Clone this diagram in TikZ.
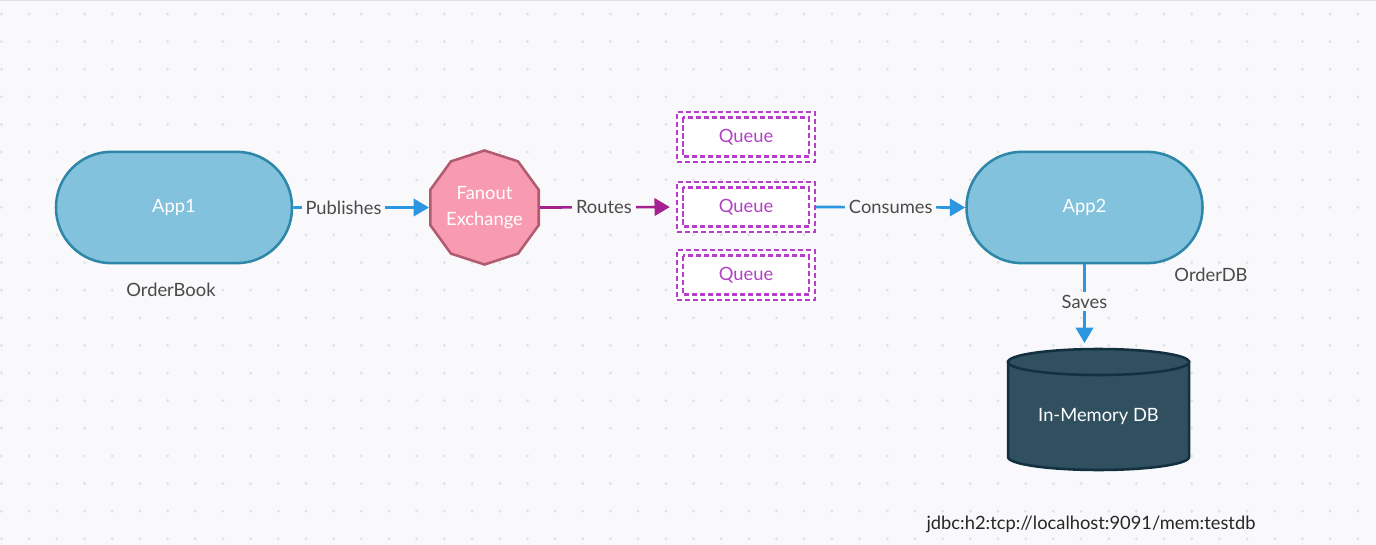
\documentclass[tikz,border=0pt]{standalone}
\usepackage{fontspec}
\setmainfont{Lato}
\usetikzlibrary{arrows.meta,shapes.geometric}
\definecolor{bg}{HTML}{F9F9FB}
\definecolor{dotc}{HTML}{E1E1E7}
\definecolor{appfill}{HTML}{82C2DC}
\definecolor{appline}{HTML}{2E87A9}
\definecolor{pinkfill}{HTML}{F89BB0}
\definecolor{pinkline}{HTML}{B15B71}
\definecolor{qline}{HTML}{B53ECA}
\definecolor{qtext}{HTML}{B142C4}
\definecolor{purp}{HTML}{A5218F}
\definecolor{blue}{HTML}{2D96E0}
\definecolor{dbfill}{HTML}{30505F}
\definecolor{dbline}{HTML}{12303F}
\definecolor{labc}{HTML}{4A4A4A}
\tikzset{
  app/.style={draw=appline,fill=appfill,line width=1.9pt,rounded corners=41.5pt,
    minimum width=177pt,minimum height=83.5pt,text=white,font=\fontsize{13.75}{16}\selectfont},
  qdash/.style={draw=qline,line width=1.75pt,dash pattern=on 3.8pt off 2.2pt},
  queue/.style={qdash,fill=white,minimum width=103.5pt,minimum height=37.5pt,
    text=qtext,font=\fontsize{13.75}{16}\selectfont},
  lbl/.style={fill=bg,text=labc,inner xsep=3pt,inner ysep=2pt,font=\fontsize{13.75}{16}\selectfont},
  note/.style={text=labc,font=\fontsize{13.75}{16}\selectfont},
  bluearr/.style={draw=blue,line width=2pt,-{Triangle[length=11.5pt,width=13pt]}},
  purparr/.style={draw=purp,line width=2pt,-{Triangle[length=11.5pt,width=13pt]}},
  dbbody/.style={draw=dbline,fill=dbfill,line width=1.9pt}
}
\begin{document}
\begin{tikzpicture}[x=0.75pt,y=-0.75pt]
  \useasboundingbox[fill=bg] (0,0) rectangle (1376,545);
  \draw[dotc,line width=1pt] (0,0.5) -- (1376,0.5);
  \foreach \i in {0,...,49}
    \foreach \j in {0,...,19}
      \fill[dotc] (1.5+27.68*\i,14+27.62*\j) circle (1.2pt);

  \node[app] (app1) at (174,207.5) {App1};
  \node[note] (orderbook) at (171,290) {OrderBook};
  \node[regular polygon,regular polygon sides=10,shape border rotate=18,
    draw=pinkline,fill=pinkfill,line width=1.9pt,minimum size=84.75pt,inner sep=0pt,
    align=center,text=white,font=\fontsize{13.75}{19}\selectfont] (fanout) at (484.5,207.5) {Fanout\\Exchange};
  \foreach \n/\y in {q1/137,q2/207,q3/275} {
    \node[queue] (\n) at (746,\y) {Queue};
    \draw[qdash] ([shift={(5.3pt,-5pt)}]\n.north west) rectangle ([shift={(-5.3pt,5pt)}]\n.south east);
  }
  \node[app] (app2) at (1084.5,207.5) {App2};
  \node[note] (orderdb) at (1211,275) {OrderDB};

  \draw[dbbody] (1008,362) -- (1008,457) arc[start angle=180,end angle=360,x radius=67.9pt,y radius=9.75pt]
    -- (1189,362) -- cycle;
  \draw[dbbody] (1098.5,362) ellipse[x radius=67.9pt,y radius=9.75pt];
  \coordinate (dbtop) at (1098.5,349);
  \node[text=white,font=\fontsize{13.75}{16}\selectfont] (db) at (1098.5,417) {In-Memory DB};
  \node[text=black!85,font=\fontsize{13.75}{16}\selectfont] (url) at (1091,524) {jdbc:h2:tcp://localhost:9091/mem:testdb};

  \draw[bluearr] (app1.east) -- node[lbl,pos=0.37] {Publishes} (fanout.west);
  \draw[purparr,shorten >=4.5pt] (fanout.east) -- node[lbl,pos=0.47] {Routes} (q2.west);
  \draw[bluearr] (q2.east) -- node[lbl,pos=0.5] {Consumes} (app2.west);
  \draw[bluearr,shorten >=4.5pt] (app2.south) -- node[lbl,pos=0.44] {Saves} (app2.south |- dbtop);
\end{tikzpicture}
\end{document}
